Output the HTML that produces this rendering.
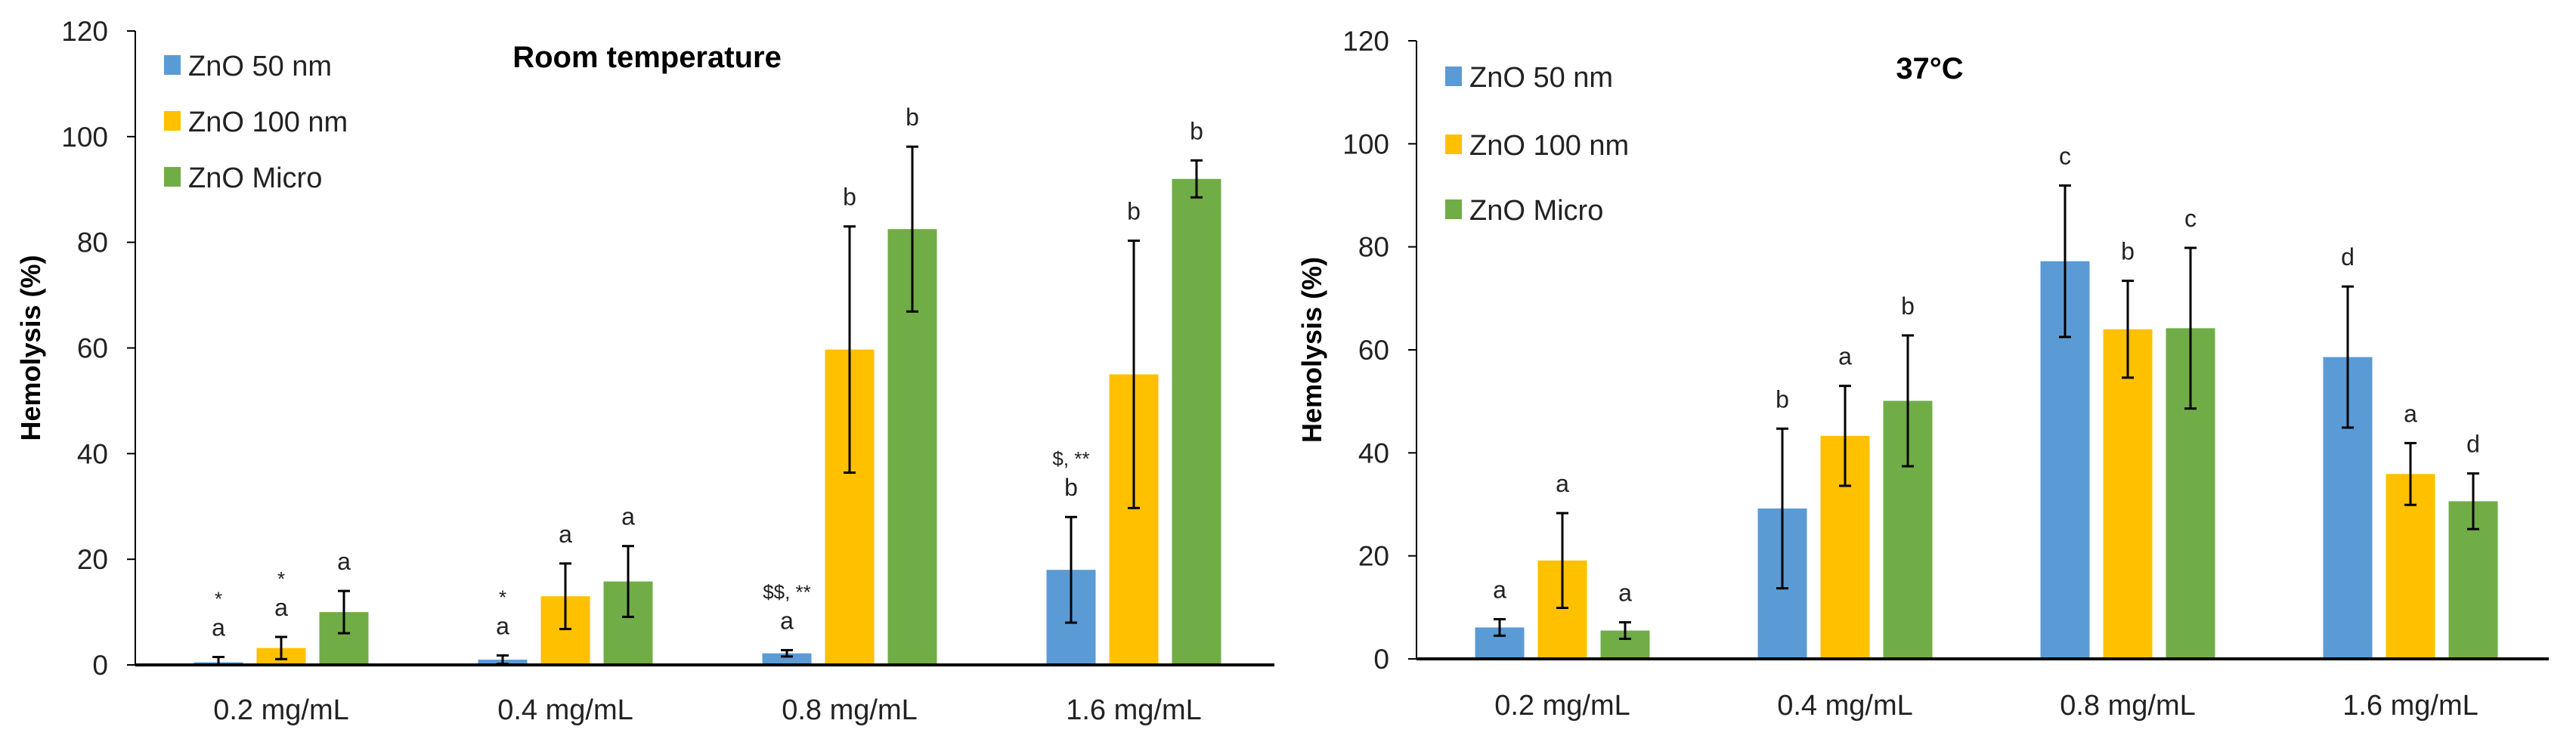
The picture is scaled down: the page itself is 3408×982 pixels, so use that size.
<!DOCTYPE html>
<html><head><meta charset="utf-8"><style>
html,body{margin:0;padding:0;background:#fff;}
svg{display:block;font-family:"Liberation Sans",sans-serif;}
</style></head><body>
<svg id="svg" width="3408" height="982" viewBox="0 0 3408 982"></svg>
<script>
const categories = ["0.2 mg/mL","0.4 mg/mL","0.8 mg/mL","1.6 mg/mL"];
const seriesNames = ["ZnO 50 nm","ZnO 100 nm","ZnO Micro"];
const yTicks = [0,20,40,60,80,100,120];
// Room temperature
const rtBlue = [0.5,1.0,2.2,18];
const rtYellow = [3.2,13,59.7,55];
const rtGreen = [10,15.8,82.5,92];
const rtBlueSd = [1.0,0.8,0.6,10];
const rtYellowSd = [2.1,6.2,23.3,25.3];
const rtGreenSd = [4,6.7,15.6,3.5];
const rtBlueLbl = [["a","*"],["a","*"],["a","$$, **"],["b","$, **"]];
const rtYellowLbl = [["a","*"],["a"],["b"],["b"]];
const rtGreenLbl = [["a"],["a"],["b"],["b"]];
// 37 C
const hotBlue = [6.1,29.2,77.2,58.6];
const hotYellow = [19.1,43.3,64,35.9];
const hotGreen = [5.5,50.1,64.2,30.6];
const hotBlueSd = [1.6,15.5,14.7,13.7];
const hotYellowSd = [9.2,9.7,9.4,6];
const hotGreenSd = [1.6,12.7,15.6,5.4];
const hotBlueLbl = [["a"],["b"],["c"],["d"]];
const hotYellowLbl = [["a"],["a"],["b"],["a"]];
const hotGreenLbl = [["a"],["b"],["c"],["d"]];

const colors = ["#5B9BD5","#FFC000","#70AD47"];
const NS = "http://www.w3.org/2000/svg";
const svg = document.getElementById("svg");
function mk(tag, attrs, parent, text){
  const e = document.createElementNS(NS, tag);
  for (const k in attrs) e.setAttribute(k, attrs[k]);
  if (text !== undefined) e.textContent = text;
  (parent||svg).appendChild(e);
  return e;
}

function chart(cfg){
  const g = mk("g", {});
  
  
  const y = v => cfg.y0 - (v/120)*(cfg.y0 - cfg.y120);
  const x = i => cfg.c0 + i*cfg.step;
  yTicks.forEach(t => {
    const tk = mk("line", {x1:cfg.ax-11, x2:cfg.ax, y1:y(t), y2:y(t), stroke:"#000","stroke-width":2}, g);
    
    
    const lb = mk("text", {x:cfg.ax-36, y:y(t)+13, "text-anchor":"end", "font-size":37, fill:"#222"}, g, String(t));
    
    
  });
  const yl = mk("line", {x1:cfg.ax, x2:cfg.ax, y1:y(120), y2:y(0), stroke:"#000","stroke-width":2}, g);
  
  
  const yt = mk("text", {x:0, y:0, transform:`translate(${cfg.ax-126},${(y(0)+y(120))/2}) rotate(-90)`, "text-anchor":"middle","font-size":36,"font-weight":"bold",fill:"#000"}, g, "Hemolysis (%)");
  
  
  const series = [cfg.b, cfg.yel, cfg.gr];
  const sds = [cfg.bsd, cfg.ysd, cfg.gsd];
  const lbls = [cfg.bl, cfg.yl, cfg.gl];
  const bw = 65, pitch = 83;
  categories.forEach((c, i) => {
    series.forEach((s, k) => {
      const cx = x(i) + (k-1)*pitch;
      const v = s[i], sd = sds[k][i];
      const r = mk("rect", {x:cx-bw/2, y:y(v), width:bw, height:y(0)-y(v), fill:colors[k]}, g);
      
      
      const top = y(v+sd), bot = y(Math.max(v-sd,0));
      const e1 = mk("line", {x1:cx, x2:cx, y1:top, y2:bot, stroke:"#000","stroke-width":3}, g);
      
      
      [top, bot].forEach(yy => {
        const cap = mk("line", {x1:cx-8, x2:cx+8, y1:yy, y2:yy, stroke:"#000","stroke-width":3}, g);
        
        
      });
      lbls[k][i].forEach((t, j) => {
        const small = j > 0;
        const ty = top - 28 - j*40;
        const tx = mk("text", {x:cx, y:ty, "text-anchor":"middle","font-size":small?26:32, fill:"#222"}, g, t);
        
        
      });
    });
    const cl = mk("text", {x:x(i), y:cfg.xlY, "text-anchor":"middle","font-size":38, fill:"#222"}, g, c);
    
    
  });
  const xl = mk("line", {x1:cfg.ax, x2:cfg.xEnd, y1:y(0), y2:y(0), stroke:"#000","stroke-width":4}, g);
  
  
  seriesNames.forEach((n, k) => {
    const ly = cfg.legY[k];
    const sq = mk("rect", {x:cfg.legX, y:ly-13, width:22, height:26, fill:colors[k]}, g);
    
    
    const lt = mk("text", {x:cfg.legX+32, y:ly+14, "font-size":38, fill:"#222"}, g, n);
    
    
  });
  const ti = mk("text", {x:cfg.titleX, y:cfg.titleY, "text-anchor":"middle","font-size":40,"font-weight":"bold",fill:"#000"}, g, cfg.title);
  
  
}

chart({name:"room-temperature-chart", title:"Room temperature", titleX:856, titleY:89,
  ax:179, xEnd:1686, y0:880, y120:41, c0:372, step:376, xlY:952,
  legX:217, legY:[86,160,234],
  b:rtBlue, yel:rtYellow, gr:rtGreen, bsd:rtBlueSd, ysd:rtYellowSd, gsd:rtGreenSd,
  bl:rtBlueLbl, yl:rtYellowLbl, gl:rtGreenLbl});
chart({name:"37c-chart", title:"37°C", titleX:2553, titleY:104,
  ax:1874, xEnd:3372, y0:872, y120:54, c0:2067, step:374, xlY:946,
  legX:1912, legY:[101,191,277],
  b:hotBlue, yel:hotYellow, gr:hotGreen, bsd:hotBlueSd, ysd:hotYellowSd, gsd:hotGreenSd,
  bl:hotBlueLbl, yl:hotYellowLbl, gl:hotGreenLbl});
</script>
</body></html>
